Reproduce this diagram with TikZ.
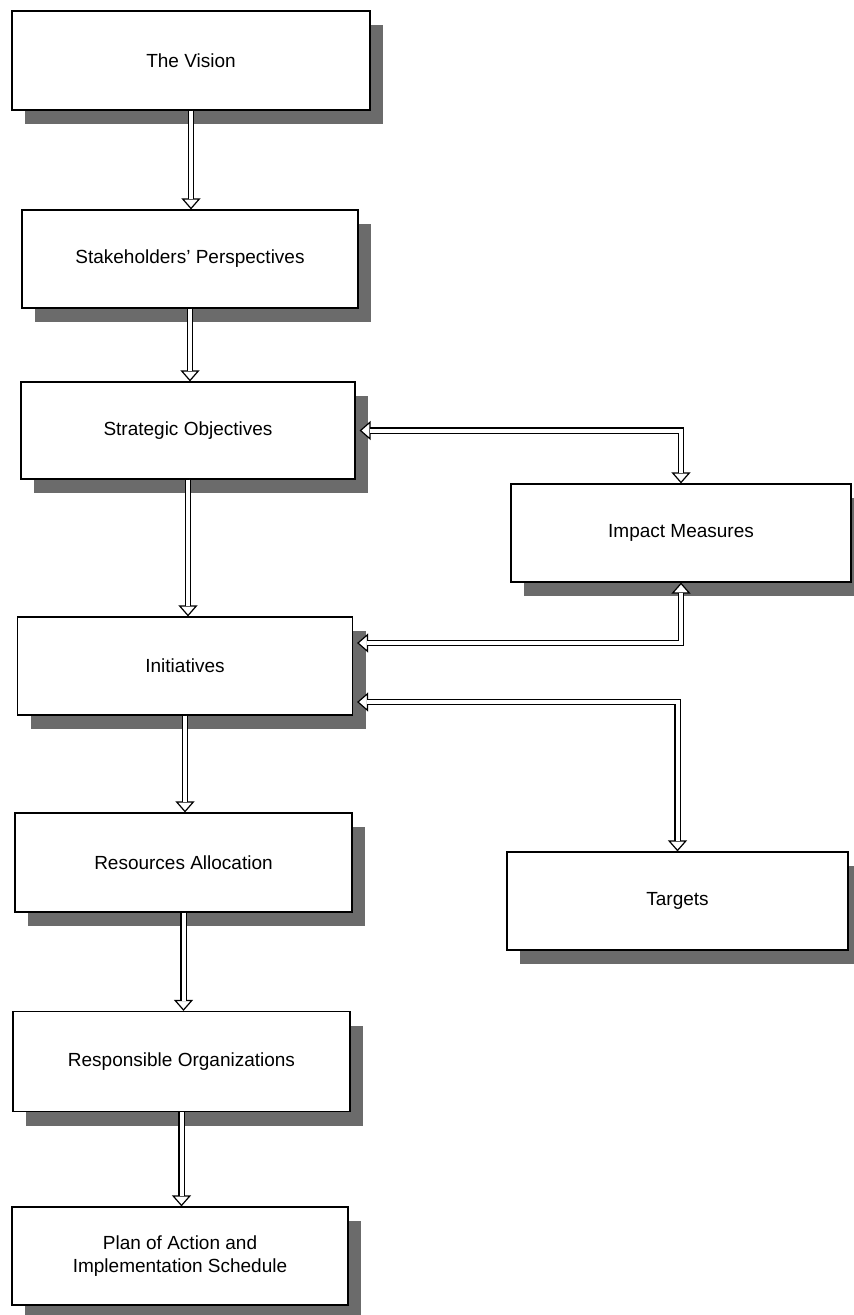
\documentclass[tikz,border=0pt]{standalone}
\usepackage{fontspec}
\setmainfont{Liberation Sans}
\usetikzlibrary{arrows.meta,shadows}
\begin{document}
\begin{tikzpicture}[x=1pt,y=-1pt,
  box/.style={draw=black, line width=1.2pt, fill=white, inner sep=0pt,
    font=\fontsize{19}{23}\selectfont, align=center,
    general shadow={fill=black!58, shadow xshift=13pt, shadow yshift=-14pt}},
  tipa/.tip={Triangle[open,fill=white,length=11pt,width=19pt,line width=1.2pt]},
  head/.style={line width=1.2pt, -tipa},
  headtwo/.style={line width=1.2pt, tipa-tipa},
  shaft/.style={line width=1.2pt, line join=miter, double=white, double distance=4pt, shorten >=10pt},
  shafttwo/.style={shaft, shorten <=10pt}]
\useasboundingbox (0,0) rectangle (854,1315);

\node[box, minimum width=358pt, minimum height=99pt] (vis) at (191,60.5) {The Vision};
\node[box, minimum width=336pt, minimum height=98pt] (stake) at (190,259) {Stakeholders' Perspectives};
\node[box, minimum width=334pt, minimum height=97pt] (strat) at (188,430.5) {Strategic Objectives};
\node[box, minimum width=335pt, minimum height=98pt] (init) at (185,666) {Initiatives};
\node[box, minimum width=337pt, minimum height=99pt] (res) at (183.5,862.5) {Resources Allocation};
\node[box, minimum width=337pt, minimum height=100pt] (resp) at (181.5,1061.5) {Responsible Organizations};
\node[box, minimum width=336pt, minimum height=98pt] (plan) at (180,1256) {Plan of Action and\\Implementation Schedule};
\node[box, minimum width=340pt, minimum height=98pt] (imp) at (681,533) {Impact Measures};
\node[box, minimum width=341pt, minimum height=98pt] (tar) at (677.5,901) {Targets};

\foreach \a/\b in {vis/stake, stake/strat, strat/init, init/res, res/resp, resp/plan}{
  \draw[head] (\a.south) -- (\a.south |- \b.north);
  \draw[shaft] (\a.south) -- (\a.south |- \b.north);
}

\draw[headtwo] ([xshift=4pt]strat.east) -| (imp.north);
\draw[shafttwo] ([xshift=4pt]strat.east) -| (imp.north);

\draw[headtwo] ([xshift=4pt,yshift=23pt]init.east) -| (imp.south);
\draw[shafttwo] ([xshift=4pt,yshift=23pt]init.east) -| (imp.south);

\draw[headtwo] ([xshift=4pt,yshift=-36pt]init.east) -| (tar.north);
\draw[shafttwo] ([xshift=4pt,yshift=-36pt]init.east) -| (tar.north);
\end{tikzpicture}
\end{document}
